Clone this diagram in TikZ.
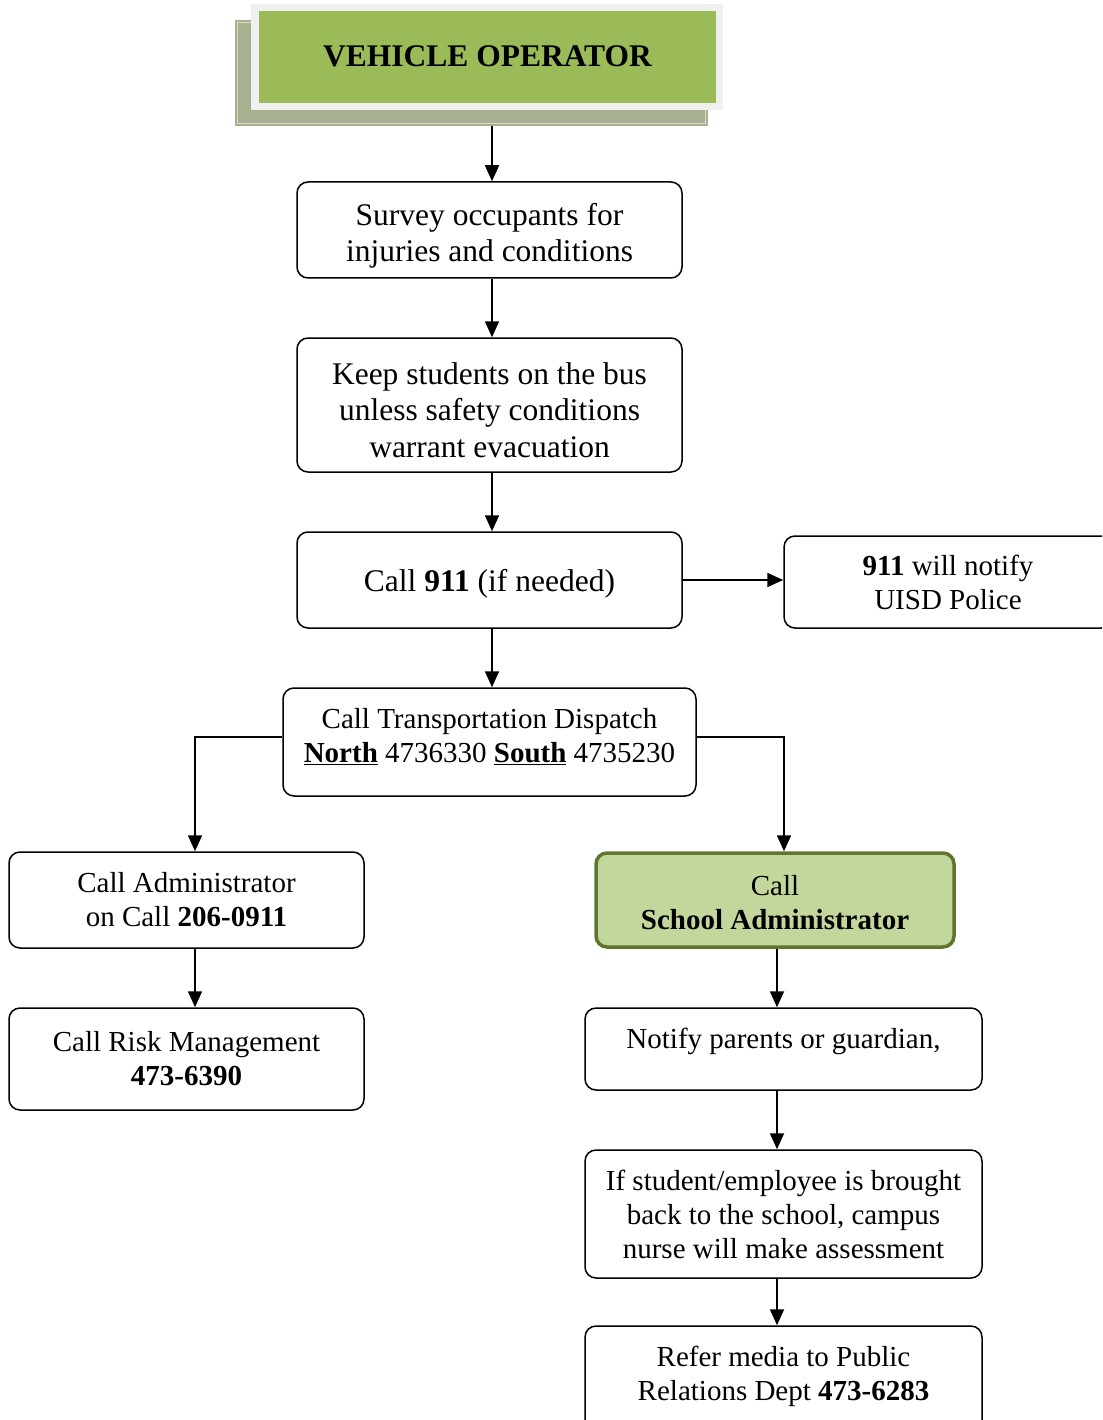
\documentclass[tikz,border=0pt]{standalone}
\usepackage{fontspec}
\setmainfont{Liberation Serif}
\usetikzlibrary{arrows.meta}
\definecolor{headgreen}{RGB}{155,187,89}
\definecolor{shadowgreen}{RGB}{167,176,143}
\definecolor{framegrey}{RGB}{240,240,240}
\definecolor{palegreen}{RGB}{195,214,155}
\definecolor{olive}{RGB}{94,118,48}
\begin{document}
\begin{tikzpicture}[x=1pt,y=-1pt,
  box/.style={draw, line width=1.5pt, rounded corners=11pt, align=center, inner sep=0pt},
  big/.style={font=\fontsize{31.5}{36.5}\selectfont},
  small/.style={font=\fontsize{29}{34}\selectfont},
  txt/.style={align=center, inner sep=0pt},
  arr/.style={-{Triangle[length=16pt,width=14pt]}, line width=1.8pt}]
\useasboundingbox (0,0) rectangle (1102,1420);
\clip (0,0) rectangle (1102,1420);

% title block with offset shadow and light frame
\node[fill=shadowgreen, minimum width=473pt, minimum height=106pt, inner sep=0pt] (shadow) at (471.5,73) {};
\draw[white!55!shadowgreen, line width=0.8pt] (237.5,22.5) rectangle (705.5,123.5);
\node[fill=framegrey, minimum width=472pt, minimum height=106pt, inner sep=0pt] (frame) at (487,57) {};
\node[fill=headgreen, minimum width=457pt, minimum height=92pt, inner sep=0pt,
      font=\fontsize{31.5}{36.5}\selectfont\bfseries] (op) at (487.5,57) {};
\node[txt, font=\fontsize{31.5}{36.5}\selectfont\bfseries] (optxt) at (487.5,56) {VEHICLE OPERATOR};
\coordinate (opbase) at (492,126);

% main column
\node[box, minimum width=385pt, minimum height=96pt] (survey) at (489.5,230) {};
\node[txt, big] (surveytxt) at (489.5,236) {Survey occupants for\\injuries and conditions};
\node[box, minimum width=385pt, minimum height=134pt] (keep) at (489.5,405) {};
\node[txt, big] (keeptxt) at (489.5,410) {Keep students on the bus\\unless safety conditions\\warrant evacuation};
\node[box, minimum width=385pt, minimum height=96pt] (call911) at (489.5,580) {};
\node[txt, big] (call911txt) at (489.5,584) {Call \textbf{911} (if needed)};
\node[box, small, minimum width=328pt, minimum height=92pt] (police) at (948,582)
  {\textbf{911} will notify\\UISD Police};
\node[box, minimum width=413pt, minimum height=108pt] (disp) at (489.5,742) {};
\node[txt, small] (disptxt) at (489.5,737)
  {Call Transportation Dispatch\\\underline{\textbf{North}} 4736330 \underline{\textbf{South}} 4735230};

% left branch
\node[box, small, minimum width=355pt, minimum height=96pt] (admin) at (186.5,900)
  {Call Administrator\\on Call \textbf{206-0911}};
\node[box, small, minimum width=355pt, minimum height=102pt] (risk) at (186.5,1059)
  {Call Risk Management\\\textbf{473-6390}};

% right branch
\node[box, small, draw=olive, line width=3.5pt, fill=palegreen, minimum width=358pt, minimum height=94pt] (school) at (775,900) {};
\node[txt, small] (schooltxt) at (775,903) {Call\\\textbf{School Administrator}};
\node[box, minimum width=397pt, minimum height=82pt] (notify) at (783.5,1049) {};
\node[txt, small] (notifytxt) at (783.5,1041) {Notify parents or guardian,};
\node[box, small, minimum width=397pt, minimum height=128pt] (nurse) at (783.5,1214)
  {If student/employee is brought\\back to the school, campus\\nurse will make assessment};
\node[box, minimum width=397pt, minimum height=110pt] (media) at (783.5,1381) {};
\node[txt, small] (mediatxt) at (783.5,1376)
  {Refer media to Public\\Relations Dept \textbf{473-6283}};

% connectors
\draw[arr] (opbase) -- (opbase |- survey.north);
\draw[arr] (opbase |- survey.south) -- (opbase |- keep.north);
\draw[arr] (opbase |- keep.south) -- (opbase |- call911.north);
\draw[arr] (call911.east) -- (police.west |- call911.east);
\draw[arr] (opbase |- call911.south) -- (opbase |- disp.north);
\draw[arr] ([yshift=5pt]disp.west) -| ([xshift=8.5pt]admin.north);
\draw[arr] ([yshift=5pt]disp.east) -| ([xshift=9pt]school.north);
\draw[arr] ([xshift=8.5pt]admin.south) -- ([xshift=8.5pt]admin.south |- risk.north);
\draw[arr] ([xshift=2pt]school.south) -- ([xshift=2pt]school.south |- notify.north);
\draw[arr] ([xshift=2pt]school.south |- notify.south) -- ([xshift=2pt]school.south |- nurse.north);
\draw[arr] ([xshift=2pt]school.south |- nurse.south) -- ([xshift=2pt]school.south |- media.north);
\end{tikzpicture}
\end{document}
